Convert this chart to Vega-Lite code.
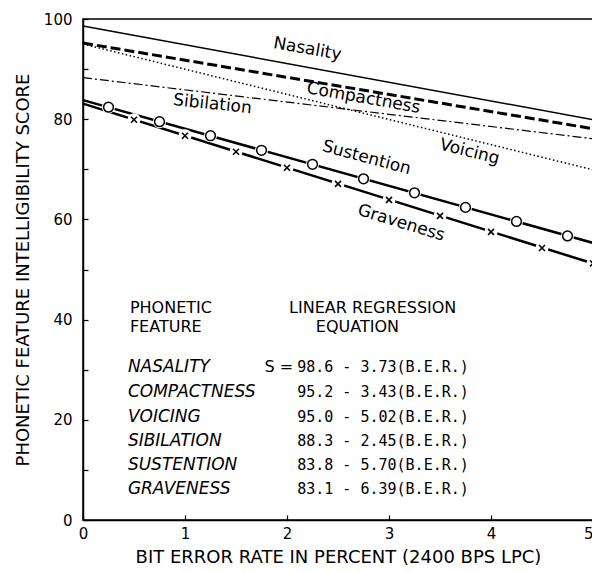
{
  "$schema": "https://vega.github.io/schema/vega-lite/v6.json",
  "width": 510,
  "height": 501,
  "autosize": "none",
  "padding": {"left": 83, "top": 19, "right": 0, "bottom": 52},
  "background": "white",
  "config": {
    "view": {"stroke": "black", "strokeWidth": 1.5},
    "axis": {
      "grid": false,
      "domainColor": "black",
      "domainWidth": 1.5,
      "tickColor": "black",
      "tickWidth": 1.2,
      "tickSize": -5,
      "labelFont": "DejaVu Sans",
      "labelFontSize": 15,
      "labelColor": "black",
      "titleFont": "DejaVu Sans",
      "titleFontSize": 18,
      "titleFontWeight": "normal",
      "titleColor": "black",
      "labelFlush": false
    }
  },
  "datasets": {
    "lines": [
      {"feature": "Nasality", "ber": 0, "score": 98.6},
      {"feature": "Nasality", "ber": 5, "score": 79.9},
      {"feature": "Compactness", "ber": 0, "score": 95.2},
      {"feature": "Compactness", "ber": 5, "score": 78.1},
      {"feature": "Voicing", "ber": 0, "score": 95.0},
      {"feature": "Voicing", "ber": 5, "score": 69.9},
      {"feature": "Sibilation", "ber": 0, "score": 88.3},
      {"feature": "Sibilation", "ber": 5, "score": 76.1},
      {"feature": "Sustention", "ber": 0, "score": 83.8},
      {"feature": "Sustention", "ber": 5, "score": 55.3},
      {"feature": "Graveness", "ber": 0, "score": 83.1},
      {"feature": "Graveness", "ber": 5, "score": 51.2}
    ],
    "markers": [
      {"feature": "Sustention", "ber": 0.25, "score": 82.4},
      {"feature": "Sustention", "ber": 0.75, "score": 79.5},
      {"feature": "Sustention", "ber": 1.25, "score": 76.7},
      {"feature": "Sustention", "ber": 1.75, "score": 73.8},
      {"feature": "Sustention", "ber": 2.25, "score": 71.0},
      {"feature": "Sustention", "ber": 2.75, "score": 68.1},
      {"feature": "Sustention", "ber": 3.25, "score": 65.3},
      {"feature": "Sustention", "ber": 3.75, "score": 62.4},
      {"feature": "Sustention", "ber": 4.25, "score": 59.6},
      {"feature": "Sustention", "ber": 4.75, "score": 56.7},
      {"feature": "Graveness", "ber": 0.5, "score": 79.9},
      {"feature": "Graveness", "ber": 1.0, "score": 76.7},
      {"feature": "Graveness", "ber": 1.5, "score": 73.5},
      {"feature": "Graveness", "ber": 2.0, "score": 70.3},
      {"feature": "Graveness", "ber": 2.5, "score": 67.1},
      {"feature": "Graveness", "ber": 3.0, "score": 63.9},
      {"feature": "Graveness", "ber": 3.5, "score": 60.7},
      {"feature": "Graveness", "ber": 4.0, "score": 57.5},
      {"feature": "Graveness", "ber": 4.5, "score": 54.3},
      {"feature": "Graveness", "ber": 5.0, "score": 51.2}
    ],
    "labels": [
      {"label": "Nasality", "ber": 2.2, "score": 94.0},
      {"label": "Compactness", "ber": 2.75, "score": 84.2},
      {"label": "Voicing", "ber": 3.79, "score": 73.5},
      {"label": "Sibilation", "ber": 1.27, "score": 83.0},
      {"label": "Sustention", "ber": 2.78, "score": 72.3},
      {"label": "Graveness", "ber": 3.12, "score": 59.3}
    ],
    "header": [
      {"text": "PHONETIC", "col": "left", "ber": 0.46, "score": 42.3},
      {"text": "FEATURE", "col": "left", "ber": 0.46, "score": 38.5},
      {"text": "LINEAR REGRESSION", "col": "center", "ber": 2.84, "score": 42.3},
      {"text": "EQUATION", "col": "center", "ber": 2.69, "score": 38.5}
    ],
    "table": [
      {"feature": "NASALITY", "equation": "98.6 - 3.73(B.E.R.)", "score": 30.5},
      {"feature": "COMPACTNESS", "equation": "95.2 - 3.43(B.E.R.)", "score": 25.6},
      {"feature": "VOICING", "equation": "95.0 - 5.02(B.E.R.)", "score": 20.6},
      {"feature": "SIBILATION", "equation": "88.3 - 2.45(B.E.R.)", "score": 15.8},
      {"feature": "SUSTENTION", "equation": "83.8 - 5.70(B.E.R.)", "score": 11.0},
      {"feature": "GRAVENESS", "equation": "83.1 - 6.39(B.E.R.)", "score": 6.2}
    ]
  },
  "layer": [
    {
      "data": {"name": "lines"},
      "transform": [{"filter": "datum.feature == 'Nasality'"}],
      "mark": {"type": "line", "stroke": "black", "strokeWidth": 1.5},
      "encoding": {
        "x": {
          "field": "ber", "type": "quantitative",
          "scale": {"domain": [0, 5], "nice": false, "zero": false},
          "axis": {
            "values": [0, 1, 2, 3, 4, 5], "format": "d",
            "labelPadding": 11,
            "labelAlign": {"condition": {"test": "datum.value == 5", "value": "right"}, "value": "center"},
            "title": "BIT ERROR RATE IN PERCENT (2400 BPS LPC)",
            "titlePadding": 7
          }
        },
        "y": {
          "field": "score", "type": "quantitative",
          "scale": {"domain": [0, 100], "nice": false},
          "axis": {
            "values": [0, 10, 20, 30, 40, 50, 60, 70, 80, 90, 100],
            "labelExpr": "datum.value % 20 == 0 ? datum.label : ''",
            "labelPadding": 16,
            "title": "PHONETIC FEATURE INTELLIGIBILITY SCORE",
            "titlePadding": 11
          }
        }
      }
    },
    {
      "data": {"name": "lines"},
      "transform": [{"filter": "datum.feature == 'Compactness'"}],
      "mark": {"type": "line", "stroke": "black", "strokeWidth": 3, "strokeDash": [10, 4]},
      "encoding": {"x": {"field": "ber", "type": "quantitative"}, "y": {"field": "score", "type": "quantitative"}}
    },
    {
      "data": {"name": "lines"},
      "transform": [{"filter": "datum.feature == 'Voicing'"}],
      "mark": {"type": "line", "stroke": "black", "strokeWidth": 1.5, "strokeDash": [1.5, 2.5]},
      "encoding": {"x": {"field": "ber", "type": "quantitative"}, "y": {"field": "score", "type": "quantitative"}}
    },
    {
      "data": {"name": "lines"},
      "transform": [{"filter": "datum.feature == 'Sibilation'"}],
      "mark": {"type": "line", "stroke": "black", "strokeWidth": 1.2, "strokeDash": [9, 3, 2, 3]},
      "encoding": {"x": {"field": "ber", "type": "quantitative"}, "y": {"field": "score", "type": "quantitative"}}
    },
    {
      "data": {"name": "lines"},
      "transform": [{"filter": "datum.feature == 'Sustention'"}],
      "mark": {"type": "line", "stroke": "black", "strokeWidth": 2.5},
      "encoding": {"x": {"field": "ber", "type": "quantitative"}, "y": {"field": "score", "type": "quantitative"}}
    },
    {
      "data": {"name": "lines"},
      "transform": [{"filter": "datum.feature == 'Graveness'"}],
      "mark": {"type": "line", "stroke": "black", "strokeWidth": 2.5},
      "encoding": {"x": {"field": "ber", "type": "quantitative"}, "y": {"field": "score", "type": "quantitative"}}
    },
    {
      "data": {"name": "markers"},
      "mark": {"type": "point", "shape": "circle", "filled": true, "fill": "white", "opacity": 1, "strokeWidth": 0, "size": 170},
      "encoding": {"x": {"field": "ber", "type": "quantitative"}, "y": {"field": "score", "type": "quantitative"}}
    },
    {
      "data": {"name": "markers"},
      "transform": [{"filter": "datum.feature == 'Sustention'"}],
      "mark": {"type": "point", "shape": "circle", "filled": false, "fill": "white", "fillOpacity": 1, "stroke": "black", "strokeWidth": 1.5, "opacity": 1, "size": 95},
      "encoding": {"x": {"field": "ber", "type": "quantitative"}, "y": {"field": "score", "type": "quantitative"}}
    },
    {
      "data": {"name": "markers"},
      "transform": [{"filter": "datum.feature == 'Graveness'"}],
      "mark": {"type": "point", "shape": "M-1,-1L1,1M-1,1L1,-1", "filled": false, "stroke": "black", "strokeWidth": 1.6, "opacity": 1, "size": 36},
      "encoding": {"x": {"field": "ber", "type": "quantitative"}, "y": {"field": "score", "type": "quantitative"}}
    },
    {
      "data": {"name": "labels"},
      "transform": [{"filter": "datum.label == 'Nasality'"}],
      "mark": {"type": "text", "font": "DejaVu Sans", "fontSize": 17, "angle": 10, "color": "black"},
      "encoding": {"x": {"field": "ber", "type": "quantitative"}, "y": {"field": "score", "type": "quantitative"}, "text": {"field": "label"}}
    },
    {
      "data": {"name": "labels"},
      "transform": [{"filter": "datum.label == 'Compactness'"}],
      "mark": {"type": "text", "font": "DejaVu Sans", "fontSize": 17, "angle": 10, "color": "black"},
      "encoding": {"x": {"field": "ber", "type": "quantitative"}, "y": {"field": "score", "type": "quantitative"}, "text": {"field": "label"}}
    },
    {
      "data": {"name": "labels"},
      "transform": [{"filter": "datum.label == 'Voicing'"}],
      "mark": {"type": "text", "font": "DejaVu Sans", "fontSize": 17, "angle": 14, "color": "black"},
      "encoding": {"x": {"field": "ber", "type": "quantitative"}, "y": {"field": "score", "type": "quantitative"}, "text": {"field": "label"}}
    },
    {
      "data": {"name": "labels"},
      "transform": [{"filter": "datum.label == 'Sibilation'"}],
      "mark": {"type": "text", "font": "DejaVu Sans", "fontSize": 17, "angle": 6, "color": "black"},
      "encoding": {"x": {"field": "ber", "type": "quantitative"}, "y": {"field": "score", "type": "quantitative"}, "text": {"field": "label"}}
    },
    {
      "data": {"name": "labels"},
      "transform": [{"filter": "datum.label == 'Sustention'"}],
      "mark": {"type": "text", "font": "DejaVu Sans", "fontSize": 17, "angle": 15, "color": "black"},
      "encoding": {"x": {"field": "ber", "type": "quantitative"}, "y": {"field": "score", "type": "quantitative"}, "text": {"field": "label"}}
    },
    {
      "data": {"name": "labels"},
      "transform": [{"filter": "datum.label == 'Graveness'"}],
      "mark": {"type": "text", "font": "DejaVu Sans", "fontSize": 17, "angle": 17, "color": "black"},
      "encoding": {"x": {"field": "ber", "type": "quantitative"}, "y": {"field": "score", "type": "quantitative"}, "text": {"field": "label"}}
    },
    {
      "data": {"name": "header"},
      "transform": [{"filter": "datum.col == 'left'"}],
      "mark": {"type": "text", "font": "DejaVu Sans", "fontSize": 16, "align": "left", "baseline": "middle", "color": "black"},
      "encoding": {"x": {"field": "ber", "type": "quantitative"}, "y": {"field": "score", "type": "quantitative"}, "text": {"field": "text"}}
    },
    {
      "data": {"name": "header"},
      "transform": [{"filter": "datum.col == 'center'"}],
      "mark": {"type": "text", "font": "DejaVu Sans", "fontSize": 16, "align": "center", "baseline": "middle", "color": "black"},
      "encoding": {"x": {"field": "ber", "type": "quantitative"}, "y": {"field": "score", "type": "quantitative"}, "text": {"field": "text"}}
    },
    {
      "mark": {"type": "rule", "stroke": "black", "strokeWidth": 1.3},
      "encoding": {"x": {"datum": 0.44}, "x2": {"datum": 3.82}, "y": {"datum": 35.9}}
    },
    {
      "data": {"name": "table"},
      "mark": {"type": "text", "font": "DejaVu Sans", "fontSize": 17, "fontStyle": "italic", "align": "left", "baseline": "middle", "color": "black"},
      "encoding": {"x": {"datum": 0.44}, "y": {"field": "score", "type": "quantitative"}, "text": {"field": "feature"}}
    },
    {
      "data": {"name": "table"},
      "transform": [{"filter": "datum.feature == 'NASALITY'"}],
      "mark": {"type": "text", "font": "DejaVu Sans", "fontSize": 16, "align": "right", "baseline": "middle", "color": "black", "text": "S ="},
      "encoding": {"x": {"datum": 2.06}, "y": {"field": "score", "type": "quantitative"}}
    },
    {
      "data": {"name": "table"},
      "mark": {"type": "text", "font": "DejaVu Sans Mono", "fontSize": 15, "align": "left", "baseline": "middle", "color": "black"},
      "encoding": {"x": {"datum": 2.1}, "y": {"field": "score", "type": "quantitative"}, "text": {"field": "equation"}}
    }
  ]
}
